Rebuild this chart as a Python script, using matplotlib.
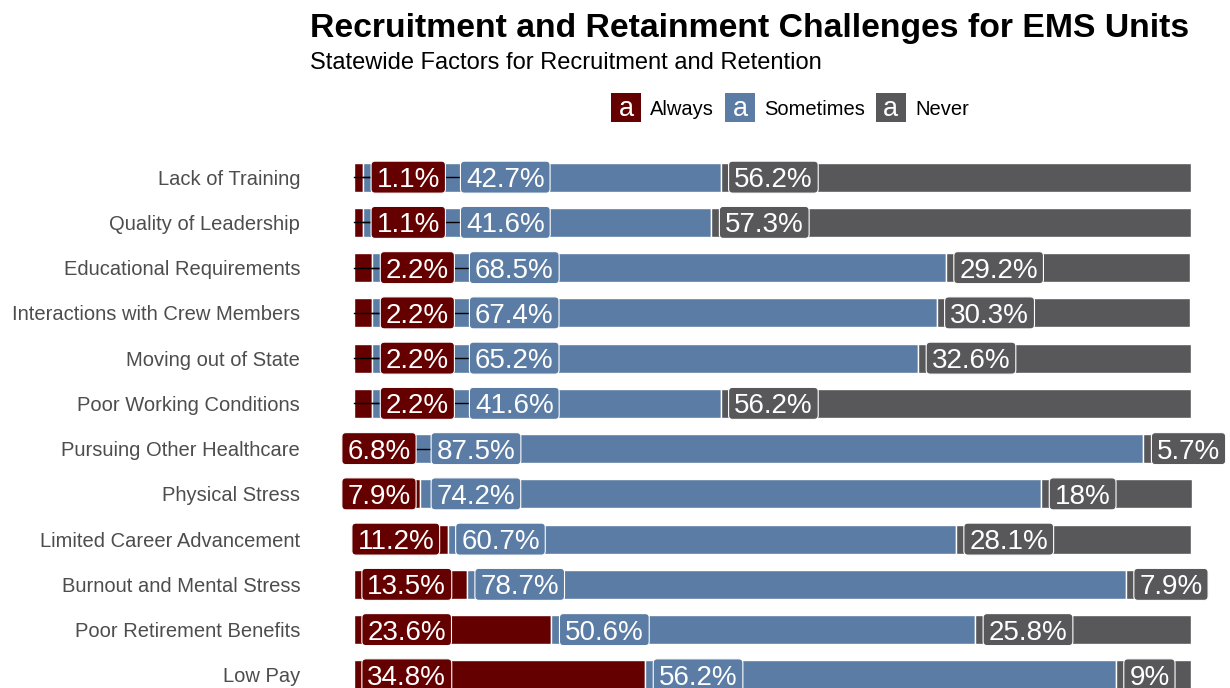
import matplotlib
matplotlib.use("Agg")
import matplotlib.pyplot as plt
from matplotlib.patches import FancyBboxPatch, Rectangle
from matplotlib.transforms import IdentityTransform

plt.rcParams["font.family"] = ["Liberation Sans", "DejaVu Sans"]

categories = ["Lack of Training", "Quality of Leadership", "Educational Requirements",
              "Interactions with Crew Members", "Moving out of State", "Poor Working Conditions",
              "Pursuing Other Healthcare", "Physical Stress", "Limited Career Advancement",
              "Burnout and Mental Stress", "Poor Retirement Benefits", "Low Pay"]
always = [1.1, 1.1, 2.2, 2.2, 2.2, 2.2, 6.8, 7.9, 11.2, 13.5, 23.6, 34.8]
sometimes = [42.7, 41.6, 68.5, 67.4, 65.2, 41.6, 87.5, 74.2, 60.7, 78.7, 50.6, 56.2]
never = [56.2, 57.3, 29.2, 30.3, 32.6, 56.2, 5.7, 18, 28.1, 7.9, 25.8, 9]
series = ["Always", "Sometimes", "Never"]
colors = ["#650000", "#5b7ca4", "#58585a"]

W, H = 1230, 688
fig = plt.figure(figsize=(W / 100, H / 100), dpi=100)
ax = fig.add_axes([312 / W, (H - 702) / H, (1233 - 312) / W, 552 / H])

y = list(range(len(categories)))
lefts = [0] * len(y)
for vals, col in zip([always, sometimes, never], colors):
    ax.barh(y, vals, left=lefts, height=0.64, color=col, edgecolor="white", linewidth=1, zorder=1)
    lefts = [l + v for l, v in zip(lefts, vals)]

ax.set_xlim(-5, 105)
ax.set_ylim(len(y) - 0.4, -0.6)
ax.set_yticks(y)
ax.set_yticklabels(categories, fontsize=14.5, color="#4d4d4d")
ax.tick_params(axis="y", length=0, pad=8.5)
ax.set_xticks([])
for s in ax.spines.values():
    s.set_visible(False)

# repelled labels, laid out in pixel space
fig.canvas.draw()
renderer = fig.canvas.get_renderer()
fs = 20
hpad, off, gap, box_h = 5.5, 8, 15, 32
cap = 0.716 * fs * 100 / 72
ident = IdentityTransform()

def px(xv, yv):
    return ax.transData.transform((xv, yv))

for i in y:
    a, s, n = always[i], sometimes[i], never[i]
    starts = [0, a, a + s]
    vals = [a, s, n]
    x0, yc = px(0, i)
    anchors = [px(v, i)[0] - x0 for v in starts]
    lb = -12
    prev_right = -1e9
    for k in range(3):
        txt = "{:g}%".format(vals[k])
        t = ax.text(0, 0, txt, fontsize=fs, color="white", transform=ident,
                    ha="center", va="baseline", zorder=4, clip_on=False)
        w = t.get_window_extent(renderer).width + 2 * hpad
        left = anchors[k] + off
        for j in range(3):
            if j != k and left < anchors[j] < left + w:
                if anchors[j] < left + w / 2:
                    left = anchors[j] + off
                else:
                    left = max(lb, anchors[j] - off - w)
        left = max(left, prev_right + gap)
        prev_right = left + w
        if left - anchors[k] > 12:
            ax.plot([x0 + anchors[k], x0 + left], [yc, yc], color="black", lw=1,
                    transform=ident, zorder=2, clip_on=False)
        box = FancyBboxPatch((x0 + left, yc - box_h / 2), w, box_h,
                             boxstyle="round,pad=0,rounding_size=4", transform=ident,
                             facecolor=colors[k], edgecolor="white", linewidth=0.8,
                             zorder=3, clip_on=False)
        ax.add_artist(box)
        t.set_position((x0 + left + w / 2, yc - cap / 2))

# title and subtitle
fig.text(310 / W, 1 - 37 / H, "Recruitment and Retainment Challenges for EMS Units",
         fontsize=24.3, fontweight="bold", va="baseline", ha="left")
fig.text(310 / W, 1 - 69 / H, "Statewide Factors for Recruitment and Retention",
         fontsize=17, va="baseline", ha="left")

# legend
key_w, key_h = 30, 29
leg_fs = 14.5
leg_y = H - 107.5
items = []
total = 0
for name in series:
    t = fig.text(0, 0, name, fontsize=leg_fs, transform=ident, va="baseline", ha="left")
    tw = t.get_window_extent(renderer).width
    items.append((t, tw))
    total += key_w + 9 + tw
total += 11 * (len(series) - 1)
xcur = 790 - total / 2
for (t, tw), col in zip(items, colors):
    fig.patches.append(Rectangle((xcur, leg_y - key_h / 2), key_w, key_h, facecolor=col,
                                 edgecolor="none", transform=ident))
    fig.text(xcur + key_w / 2, leg_y - 0.716 * 19.5 * 100 / 72 / 2 + 1, "a", fontsize=19.5,
             color="white", transform=ident, ha="center", va="baseline")
    t.set_position((xcur + key_w + 9, leg_y - 0.716 * leg_fs * 100 / 72 / 2))
    xcur += key_w + 9 + tw + 11

fig.savefig("out.png", dpi=100)
